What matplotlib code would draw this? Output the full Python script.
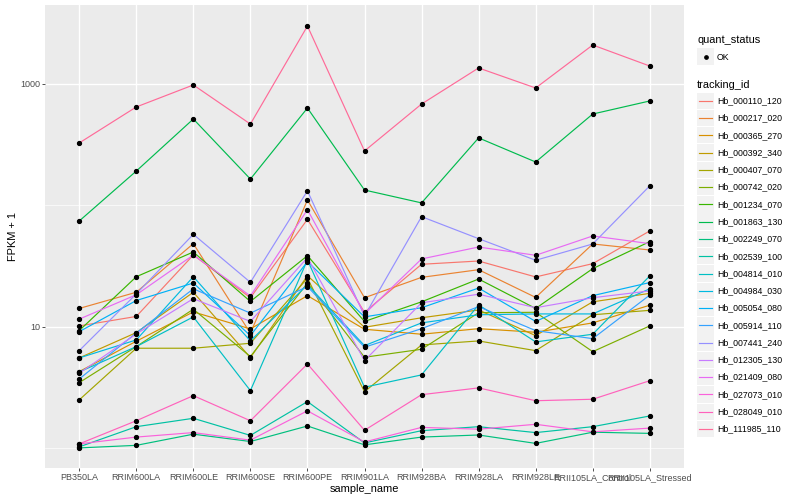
import numpy as np
import matplotlib
matplotlib.use("Agg")
import matplotlib.pyplot as plt
from matplotlib.lines import Line2D
from matplotlib.patches import Rectangle

plt.rcParams["font.family"] = ["Liberation Sans", "DejaVu Sans"]

samples = ["PB350LA", "RRIM600LA", "RRIM600LE", "RRIM600SE", "RRIM600PE",
           "RRIM901LA", "RRIM928BA", "RRIM928LA", "RRIM928LE",
           "RRII105LA_Control", "RRII105LA_Stressed"]

# FPKM + 1
hb_000110_120 = [10.2, 12.2, 39.1, 17.4, 76.9, 13.2, 32.8, 34.9, 25.8, 33.2, 61.7]
hb_000217_020 = [14.2, 19.3, 48.5, 8.87, 111, 17.4, 25.6, 29.6, 17.5, 48.2, 43.0]
hb_000365_270 = [4.29, 7.63, 13.3, 9.63, 18.1, 9.57, 8.71, 9.68, 9.04, 10.8, 15.1]
hb_000392_340 = [5.56, 8.98, 19.3, 5.59, 26.4, 9.94, 11.9, 13.8, 8.48, 16.1, 18.9]
hb_000407_070 = [2.51, 6.68, 6.68, 7.34, 25.2, 2.93, 7.11, 7.67, 6.38, 12.6, 13.7]
hb_000742_020 = [3.48, 6.89, 14.0, 5.70, 23.0, 5.63, 6.55, 13.1, 13.2, 6.26, 10.2]
hb_001234_070 = [9.33, 25.9, 41.4, 16.2, 38.6, 11.1, 16.1, 24.8, 14.2, 30.2, 50.4]
hb_001863_130 = [74.5, 192, 515, 165, 634, 134, 105, 360, 228, 566, 725]
hb_002249_070 = [1.01, 1.06, 1.31, 1.14, 1.53, 1.07, 1.24, 1.29, 1.10, 1.36, 1.33]
hb_002539_100 = [1.03, 1.51, 1.77, 1.28, 2.43, 1.11, 1.40, 1.51, 1.35, 1.51, 1.85]
hb_004814_010 = [4.26, 6.89, 12.1, 2.99, 35.6, 3.19, 4.03, 15.2, 7.53, 8.71, 26.3]
hb_004984_030 = [5.56, 7.82, 25.9, 7.67, 22.3, 7.02, 10.8, 12.6, 12.8, 12.8, 20.6]
hb_005054_080 = [9.15, 16.5, 23.0, 8.48, 34.5, 12.1, 14.4, 20.9, 11.1, 18.1, 23.2]
hb_005914_110 = [3.73, 8.93, 20.6, 13.0, 21.5, 6.81, 9.68, 14.7, 9.33, 8.01, 18.3]
hb_007441_240 = [6.38, 18.7, 57.9, 23.3, 132, 12.3, 80.9, 53.3, 35.4, 48.2, 145]
hb_012305_130 = [4.16, 8.76, 17.1, 11.1, 37.2, 5.28, 15.8, 18.6, 14.4, 17.4, 19.8]
hb_021409_080 = [11.6, 18.4, 39.1, 18.0, 92.3, 12.8, 36.3, 45.5, 38.9, 56.1, 48.5]
hb_027073_010 = [1.09, 1.24, 1.35, 1.17, 2.04, 1.13, 1.49, 1.44, 1.58, 1.37, 1.47]
hb_028049_010 = [1.09, 1.69, 2.72, 1.69, 4.96, 1.41, 2.77, 3.15, 2.47, 2.54, 3.61]
hb_111985_110 = [327, 647, 982, 468, 3000, 281, 684, 1355, 927, 2094, 1406]

tracking_ids = ["Hb_000110_120", "Hb_000217_020", "Hb_000365_270", "Hb_000392_340",
                "Hb_000407_070", "Hb_000742_020", "Hb_001234_070", "Hb_001863_130",
                "Hb_002249_070", "Hb_002539_100", "Hb_004814_010", "Hb_004984_030",
                "Hb_005054_080", "Hb_005914_110", "Hb_007441_240", "Hb_012305_130",
                "Hb_021409_080", "Hb_027073_010", "Hb_028049_010", "Hb_111985_110"]
series = [hb_000110_120, hb_000217_020, hb_000365_270, hb_000392_340, hb_000407_070,
          hb_000742_020, hb_001234_070, hb_001863_130, hb_002249_070, hb_002539_100,
          hb_004814_010, hb_004984_030, hb_005054_080, hb_005914_110, hb_007441_240,
          hb_012305_130, hb_021409_080, hb_027073_010, hb_028049_010, hb_111985_110]


def hcl_hex(h, c, l):
    # polar LUV -> sRGB, like R's hcl()
    h = np.radians(h)
    u, v = c * np.cos(h), c * np.sin(h)
    xn, yn, zn = 95.047, 100.0, 108.883
    y = yn * ((l + 16) / 116) ** 3
    un = 4 * xn / (xn + 15 * yn + 3 * zn)
    vn = 9 * yn / (xn + 15 * yn + 3 * zn)
    up = u / (13 * l) + un
    vp = v / (13 * l) + vn
    x = y * 9 * up / (4 * vp)
    z = y * (12 - 3 * up - 20 * vp) / (4 * vp)
    m = np.array([[3.240479, -1.537150, -0.498535],
                  [-0.969256, 1.875992, 0.041556],
                  [0.055648, -0.204043, 1.057311]])
    rgb = m @ (np.array([x, y, z]) / 100)
    rgb = np.where(rgb <= 0.0031308, 12.92 * rgb, 1.055 * np.abs(rgb) ** (1 / 2.4) - 0.055)
    return tuple(np.clip(rgb, 0, 1))


def hue_pal(n):
    hues = np.linspace(15, 375, n + 1)[:-1]
    return [hcl_hex(h, 100, 65) for h in hues]


colors = hue_pal(len(series))

fig = plt.figure(figsize=(8, 5), dpi=100)
ax = fig.add_axes([45 / 800, 1 - 468 / 500, (684 - 45) / 800, (468 - 5) / 500])
ax.set_facecolor("#EBEBEB")
x = np.arange(len(samples))

for vals, col in zip(series, colors):
    ax.plot(x, vals, color=col, lw=0.85, zorder=2)
for vals in series:
    ax.plot(x, vals, ls="none", marker="o", ms=2.8, color="black", zorder=3)

ax.set_yscale("log")
ax.set_ylim(0.69, 4470)
ax.set_xlim(-0.6, len(samples) - 0.4)
ax.set_yticks([10, 1000])
ax.set_yticklabels(["10", "1000"])
ax.set_yticks([1, 100], minor=True)
ax.set_yticklabels([], minor=True)
ax.set_xticks(x)
ax.set_xticklabels(samples)
ax.grid(True, which="major", color="white", lw=1.0)
ax.grid(True, which="minor", axis="y", color="white", lw=0.5)
ax.set_axisbelow(True)
for s in ax.spines.values():
    s.set_visible(False)
ax.tick_params(which="major", length=2.0, width=0.6, color="#333333",
               labelcolor="#4D4D4D", labelsize=6.5, pad=1.5)
ax.tick_params(which="minor", length=0)
ax.set_xlabel("sample_name", fontsize=7.9, labelpad=1.5)
ax.set_ylabel("FPKM + 1", fontsize=7.9, labelpad=1.5)


def fx(px):
    return px / 800


def fy(py):
    return 1 - py / 500


# legend: quant_status
fig.text(fx(697), fy(40), "quant_status", fontsize=7.9, va="center", ha="left")
fig.add_artist(Rectangle((fx(697), fy(65)), 17 / 800, 16.5 / 500,
                         transform=fig.transFigure, color="#F2F2F2", lw=0))
fig.add_artist(Line2D([fx(705.5)], [fy(57)], marker="o", ms=2.4, color="black",
                      transform=fig.transFigure))
fig.text(fx(717), fy(57), "OK", fontsize=6.3, va="center", ha="left")

# legend: tracking_id
fig.text(fx(697), fy(85), "tracking_id", fontsize=7.9, va="center", ha="left")
step = 17.28
for i, (name, col) in enumerate(zip(tracking_ids, colors)):
    cy = 100.7 + i * step
    fig.add_artist(Rectangle((fx(697), fy(cy + 8.2)), 17 / 800, 16.4 / 500,
                             transform=fig.transFigure, color="#F2F2F2", lw=0))
    fig.add_artist(Line2D([fx(699), fx(712)], [fy(cy), fy(cy)], color=col, lw=0.85,
                          transform=fig.transFigure))
    fig.text(fx(717), fy(cy), name, fontsize=6.3, va="center", ha="left")

fig.savefig("out.png", dpi=100)
